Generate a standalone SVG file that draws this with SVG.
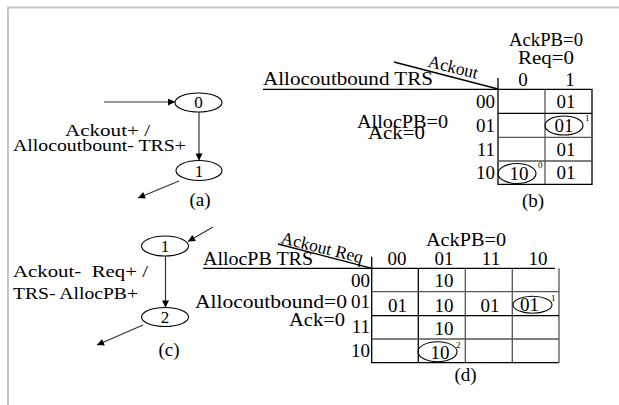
<svg xmlns="http://www.w3.org/2000/svg" width="619" height="405" viewBox="0 0 619 405">
  <style>
    text { font-family: "Liberation Serif", "Times New Roman", serif; fill: #000; }
    .t { font-size: 19px; }
    .lbl { font-size: 17.5px; }
    .st { font-size: 17px; text-anchor: middle; }
    .c { text-anchor: middle; }
    .r { text-anchor: end; }
    .sup { font-size: 9px; }
    .diag { font-size: 17.5px; }
    .frame { stroke: #c6c6c6; stroke-width: 2; fill: none; }
    .ln { stroke: #000; stroke-width: 1.3; fill: none; }
    .gl { stroke: #555; stroke-width: 1.3; fill: none; }
    .node { stroke: #000; stroke-width: 1.1; fill: #fff; }
    .ring { stroke: #000; stroke-width: 1.1; fill: none; }
    .edge { stroke: #333; stroke-width: 1.2; fill: none; marker-end: url(#head); }
  </style>
  <defs>
    <marker id="head" viewBox="0 0 10 10" refX="10" refY="5" markerWidth="9" markerHeight="7" markerUnits="userSpaceOnUse" orient="auto">
      <path d="M0,0 L10,5 L0,10 z" fill="#000"/>
    </marker>
  </defs>

  <rect width="619" height="405" fill="#fff"/>
  <!-- outer frame: top and left rules -->
  <path class="frame" d="M8,405 V7.5 H619"/>

  <!-- transitions of both state graphs -->
  <g id="connectors">
    <line class="edge" x1="104" y1="102" x2="175" y2="102"/>
    <line class="edge" x1="199" y1="112" x2="199" y2="160.5"/>
    <line class="edge" x1="179" y1="181" x2="138" y2="198"/>
    <line class="edge" x1="213" y1="227" x2="188" y2="241.5"/>
    <line class="edge" x1="165.5" y1="256" x2="165.5" y2="307.5"/>
    <line class="edge" x1="143" y1="325" x2="97" y2="345"/>
  </g>

  <!-- state graph (a) -->
  <g id="a-s0">
    <ellipse class="node" cx="198.5" cy="102.5" rx="23.5" ry="9.5"/>
    <text class="st" x="198.5" y="108">0</text>
  </g>
  <g id="a-s1">
    <ellipse class="node" cx="199" cy="170.5" rx="23" ry="10"/>
    <text class="st" x="199" y="176.5">1</text>
  </g>
  <g id="a-label">
    <text class="lbl" x="65" y="135.5" textLength="85" lengthAdjust="spacingAndGlyphs">Ackout+ /</text>
    <text class="lbl" x="13" y="150.5" textLength="173" lengthAdjust="spacingAndGlyphs">Allocoutbount- TRS+</text>
    <text class="t c" x="200" y="206">(a)</text>
  </g>

  <!-- state graph (c) -->
  <g id="c-s1">
    <ellipse class="node" cx="165" cy="246" rx="23.5" ry="10"/>
    <text class="st" x="165" y="252">1</text>
  </g>
  <g id="c-s2">
    <ellipse class="node" cx="165" cy="317" rx="23.5" ry="9.5"/>
    <text class="st" x="165" y="323">2</text>
  </g>
  <g id="c-label">
    <text class="lbl" x="13" y="277" textLength="135" lengthAdjust="spacingAndGlyphs" xml:space="preserve">Ackout-  Req+ /</text>
    <text class="lbl" x="13" y="298.5" textLength="125" lengthAdjust="spacingAndGlyphs">TRS- AllocPB+</text>
    <text class="t c" x="169" y="356">(c)</text>
  </g>

  <!-- Karnaugh map (b) -->
  <g id="map-b">
    <text class="t c" x="546" y="45.5" textLength="74" lengthAdjust="spacingAndGlyphs">AckPB=0</text>
    <text class="t c" x="546" y="64" textLength="56" lengthAdjust="spacingAndGlyphs">Req=0</text>
    <text class="diag" transform="translate(427,66.5) rotate(14)" textLength="51">Ackout</text>
    <text class="t" x="263" y="85" textLength="170" lengthAdjust="spacingAndGlyphs">Allocoutbound TRS</text>
    <text class="t c" x="523" y="86">0</text>
    <text class="t c" x="570" y="86">1</text>
    <line class="ln" x1="394" y1="62" x2="498" y2="89"/>
    <path class="ln" d="M263,89.3 H592 V184.3 H498 V78"/>
    <line class="gl" x1="545" y1="89.3" x2="545" y2="184.3"/>
    <line class="ln" x1="498" y1="113.3" x2="592" y2="113.3"/>
    <line class="gl" x1="498" y1="137.3" x2="592" y2="137.3"/>
    <line class="gl" x1="498" y1="161" x2="592" y2="161"/>
    <text class="t r" x="495" y="108.3">00</text>
    <text class="t r" x="495" y="132">01</text>
    <text class="t r" x="495" y="155.5">11</text>
    <text class="t r" x="495" y="178.8">10</text>
    <text class="t" x="357" y="128" textLength="91" lengthAdjust="spacingAndGlyphs">AllocPB=0</text>
    <text class="t" x="368" y="139" textLength="57" lengthAdjust="spacingAndGlyphs">Ack=0</text>
    <text class="t c" x="566" y="108.3">01</text>
    <text class="t c" x="564" y="132">01</text>
    <text class="t c" x="566" y="155.5">01</text>
    <text class="t c" x="566" y="179">01</text>
    <text class="t c" x="519" y="179.5">10</text>
    <ellipse class="ring" cx="564" cy="125.5" rx="19" ry="9.5"/>
    <text class="sup" x="585" y="121">1</text>
    <ellipse class="ring" cx="517" cy="173.5" rx="19" ry="10"/>
    <text class="sup" x="538" y="168">0</text>
    <text class="t c" x="533" y="207">(b)</text>
  </g>

  <!-- Karnaugh map (d) -->
  <g id="map-d">
    <text class="t c" x="466" y="246" textLength="80" lengthAdjust="spacingAndGlyphs">AckPB=0</text>
    <text class="diag" transform="translate(280,243) rotate(14)" textLength="84">Ackout Req</text>
    <text class="t" x="203" y="265" textLength="110" lengthAdjust="spacingAndGlyphs">AllocPB TRS</text>
    <text class="t c" x="397" y="265">00</text>
    <text class="t c" x="444" y="265">01</text>
    <text class="t c" x="491" y="265">11</text>
    <text class="t c" x="538" y="265">10</text>
    <line class="ln" x1="278" y1="244" x2="372" y2="268.3"/>
    <path class="ln" d="M203,268.3 H555"/>
    <path class="ln" d="M371.7,256.7 V362.7 H559"/>
    <line class="gl" x1="559" y1="268.3" x2="559" y2="362.7"/>
    <line class="ln" x1="418.3" y1="268.3" x2="418.3" y2="362.7"/>
    <line class="gl" x1="465.3" y1="268.3" x2="465.3" y2="362.7"/>
    <line class="gl" x1="512.3" y1="268.3" x2="512.3" y2="362.7"/>
    <line class="gl" x1="371.7" y1="291.7" x2="559" y2="291.7"/>
    <line class="ln" x1="371.7" y1="315.7" x2="559" y2="315.7"/>
    <line class="gl" x1="371.7" y1="339" x2="559" y2="339"/>
    <text class="t r" x="370" y="286.7">00</text>
    <text class="t r" x="370" y="307.5">01</text>
    <text class="t r" x="370" y="333.3">11</text>
    <text class="t r" x="370" y="357">10</text>
    <text class="t" x="195" y="307.5" textLength="152" lengthAdjust="spacingAndGlyphs">Allocoutbound=0</text>
    <text class="t" x="289" y="326" textLength="56" lengthAdjust="spacingAndGlyphs">Ack=0</text>
    <text class="t c" x="444" y="287">10</text>
    <text class="t c" x="397.5" y="311.5">01</text>
    <text class="t c" x="444" y="311.5">10</text>
    <text class="t c" x="490" y="311.5">01</text>
    <text class="t c" x="529.5" y="311">01</text>
    <text class="t c" x="444" y="335">10</text>
    <text class="t c" x="440" y="359">10</text>
    <ellipse class="ring" cx="532.5" cy="304.7" rx="19.5" ry="8.5"/>
    <text class="sup" x="551" y="301">1</text>
    <ellipse class="ring" cx="437.5" cy="351.7" rx="19.5" ry="10"/>
    <text class="sup" x="456" y="348">2</text>
    <text class="t c" x="465.5" y="381">(d)</text>
  </g>
</svg>
